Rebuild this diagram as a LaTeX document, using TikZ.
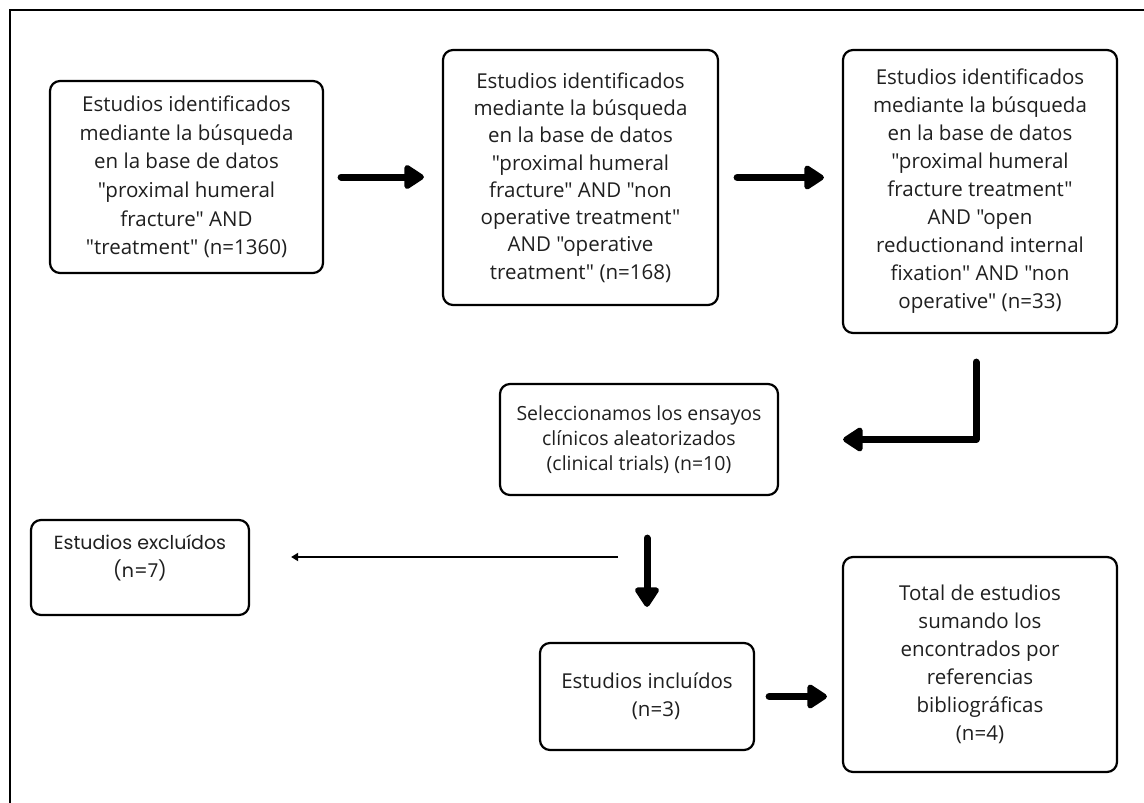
\documentclass[tikz,border=0pt]{standalone}
\usepackage{fontspec}
\setmainfont{Open Sans}[Ligatures=TeXOff]
\newfontfamily\popfont{Poppins}[Ligatures=TeXOff]
\usetikzlibrary{arrows.meta,calc}
\tikzset{
  box/.style={draw=black, line width=2.2pt, rounded corners=10pt, inner sep=0pt,
    align=center, text=black!88, font=\fontsize{20.5}{28}\selectfont},
  big/.style={line width=7pt, line cap=round, line join=round,
    -{Triangle[length=22pt,width=27pt,round]}},
  thin/.style={line width=2pt, -{Triangle[length=7pt,width=8pt]}}
}
\begin{document}
\begin{tikzpicture}[x=1pt,y=-1pt]
\useasboundingbox (0,0) rectangle (1144,803);
\fill[white] (0,0) rectangle (1144,803);
\draw[line width=2.2pt] (10,820) -- (10,10) -- (1160,10);

\node[box, minimum width=273pt, minimum height=192pt, font=\fontsize{20.5}{28.6}\selectfont] (A) at (186.5,177)
 {Estudios identificados\\mediante la búsqueda\\en la base de datos\\"proximal humeral\\fracture" AND\\"treatment" (n=1360)};
\node[box, minimum width=275pt, minimum height=255pt, font=\fontsize{20.5}{27.3}\selectfont] (B) at (580.5,177.5)
 {Estudios identificados\\mediante la búsqueda\\en la base de datos\\"proximal humeral\\fracture" AND "non\\operative treatment"\\AND "operative\\treatment" (n=168)};
\node[box, minimum width=274pt, minimum height=283pt] (C) at (980,191.5)
 {Estudios identificados\\mediante la búsqueda\\en la base de datos\\"proximal humeral\\fracture treatment"\\AND "open\\reductionand internal\\fixation" AND "non\\operative" (n=33)};
\node[box, minimum width=278pt, minimum height=111pt, font=\fontsize{19.5}{25}\selectfont] (D) at (639,439.5)
 {Seleccionamos los ensayos\\clínicos aleatorizados\\(clinical trials) (n=10)};
\node[box, minimum width=218pt, minimum height=95pt] (E) at (140,567.5) {};
\node[align=center, inner sep=0pt, text=black!88, font=\popfont\fontsize{19}{28}\selectfont] (Et) at (140,558)
 {Estudios excluídos\\(n=7)};
\node[box, minimum width=214pt, minimum height=107pt] (F) at (647,696.5)
 {Estudios incluídos\\\hspace*{18pt}(n=3)};
\node[box, minimum width=274pt, minimum height=215pt] (G) at (980,664.5)
 {Total de estudios\\sumando los\\encontrados por\\referencias\\bibliográficas\\(n=4)};

\draw[big, shorten <=17pt, shorten >=18pt] (A.east) -- (A.east -| B.west);
\draw[big, shorten <=18pt, shorten >=18pt] (B.east) -- (B.east -| C.west);
\draw[big, shorten <=28pt, shorten >=64pt] ([xshift=-4pt]C.south) |- (D.east);
\draw[big, shorten <=42pt, shorten >=35pt] (D.south -| F.north) -- (F.north);
\coordinate (t1) at (618,557);
\draw[thin, shorten >=41pt] (t1) -- (t1 -| E.east);
\draw[big, shorten <=14pt, shorten >=15pt] (F.east) -- (F.east -| G.west);
\end{tikzpicture}
\end{document}
